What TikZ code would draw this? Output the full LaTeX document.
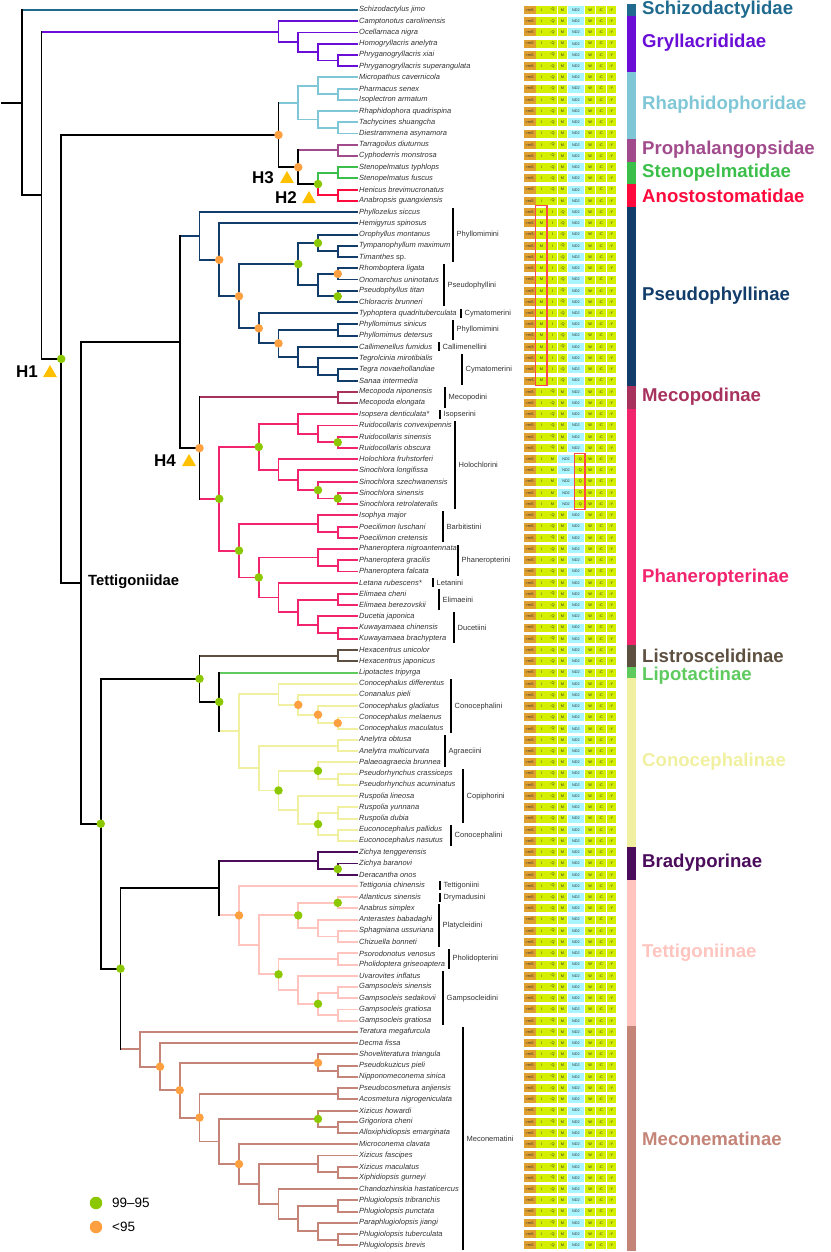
\documentclass[tikz,border=0pt]{standalone}
\usepackage{fontspec}
\setmainfont{Liberation Sans}
\usetikzlibrary{calc,shapes.geometric}
\definecolor{cSchizo}{HTML}{1F6A8E}
\definecolor{cGryl}{HTML}{6A0DD6}
\definecolor{cRhaph}{HTML}{7FC7D6}
\definecolor{cProph}{HTML}{A24B8C}
\definecolor{cSten}{HTML}{3CBF4A}
\definecolor{cAnost}{HTML}{FF0A3C}
\definecolor{cPseudo}{HTML}{123C69}
\definecolor{cMeco}{HTML}{A8325E}
\definecolor{cPhan}{HTML}{F2246E}
\definecolor{cListro}{HTML}{5E5040}
\definecolor{cLipo}{HTML}{5FCB5F}
\definecolor{cConoc}{HTML}{F0F0A0}
\definecolor{cBrady}{HTML}{4B0C5C}
\definecolor{cTett}{HTML}{FFC4BE}
\definecolor{cMecon}{HTML}{C48478}
\definecolor{dotG}{HTML}{8CC800}
\definecolor{dotO}{HTML}{FFA040}
\definecolor{triC}{HTML}{FFC000}
\definecolor{cOr}{HTML}{E0A030}
\definecolor{cYg}{HTML}{D4F000}
\definecolor{cCy}{HTML}{A8F4FF}
\definecolor{cRed}{HTML}{FF4A4A}
\tikzset{
 br/.style={line width=1.9pt,line cap=rect},
 taxon/.style={anchor=west,inner sep=0pt,font=\fontsize{7.5}{8}\selectfont\itshape,text=black!80},
 tribe/.style={anchor=west,inner sep=0pt,font=\fontsize{7.5}{8}\selectfont,text=black!80},
 gtxt/.style={inner sep=0pt,font=\fontsize{3.8}{4}\selectfont,text=black!80},
 clab/.style={anchor=west,inner sep=0pt,font=\fontsize{18.6}{20}\selectfont\bfseries},
 hlab/.style={inner sep=0pt,font=\fontsize{17}{18}\selectfont\bfseries},
 tri/.style={regular polygon,regular polygon sides=3,fill=triC,inner sep=0pt,minimum size=16pt},
 dotg/.style={circle,fill=dotG,inner sep=0pt,minimum size=8.5pt},
 doto/.style={circle,fill=dotO,inner sep=0pt,minimum size=8.5pt},
 redbox/.style={draw=cRed,line width=1.1pt},
}
\newcommand\ry[1]{10+11.23*(#1)}
\newcommand\bn[7]{%
 \path let \p1=($(#3)!.5!(#4)$) in ({2pt+19.75pt*#2},\y1) coordinate (#1);
 \draw[br,#6] (#1 |- #3) -- (#3);
 \draw[br,#7] (#1 |- #4) -- (#4);
 \draw[br,#5] (#1 |- #3) -- (#1 |- #4);
}
\newcommand\gene[6]{%
 \fill[#4] (#1,{#3-4}) rectangle (#2,{#3+4});
 \node[gtxt] (#6) at ({(#1+#2)/2},#3) {#5};
}
\newcommand\growcommon[2]{%
 \gene{523.5}{535.5}{#1}{cOr}{-rrnS}{g#2a}
 \gene{585.2}{595.2}{#1}{cYg}{W}{g#2f}
 \gene{596}{605.8}{#1}{cYg}{-C}{g#2g}
 \gene{606.6}{616}{#1}{cYg}{-Y}{g#2h}
}
\newcommand\grown[2]{%
 \growcommon{#1}{#2}
 \gene{536.3}{546.6}{#1}{cYg}{I}{g#2b}
 \gene{547.4}{557.3}{#1}{cYg}{-Q}{g#2c}
 \gene{558.1}{566.8}{#1}{cYg}{M}{g#2d}
 \gene{567.6}{584.4}{#1}{cCy}{ND2}{g#2e}
}
\newcommand\growp[2]{%
 \growcommon{#1}{#2}
 \gene{536.3}{546.6}{#1}{cYg}{M}{g#2b}
 \gene{547.4}{557.3}{#1}{cYg}{I}{g#2c}
 \gene{558.1}{566.8}{#1}{cYg}{-Q}{g#2d}
 \gene{567.6}{584.4}{#1}{cCy}{ND2}{g#2e}
}
\newcommand\grows[2]{%
 \growcommon{#1}{#2}
 \gene{536.3}{546.6}{#1}{cYg}{I}{g#2b}
 \gene{547.4}{557.3}{#1}{cYg}{M}{g#2c}
 \gene{558.1}{574.0}{#1}{cCy}{ND2}{g#2d}
 \gene{574.8}{584.4}{#1}{cYg}{-Q}{g#2e}
}
\newcommand\cbar[3]{\fill[#3] (627,{\ry{#1-0.5}}) rectangle (636,{\ry{#2+0.5}});}
\newcommand\tribe[5]{%
 \fill[black] ({#1-1.2},{\ry{#2}-4.5}) rectangle ({#1+1.2},{\ry{#3}+4.5});
 \node[tribe] (#5) at ({#1+3.5},{\ry{(#2+#3)/2}}) {#4};
}
\begin{document}
\begin{tikzpicture}[x=1pt,y=-1pt]
\useasboundingbox (0,0) rectangle (830,1252);
% taxa
\foreach \n [count=\i from 0] in {Schizodactylus jimo, Camptonotus carolinensis, Ocellarnaca nigra, Homogryllacris anelytra, Phryganogryllacris xiai, Phryganogryllacris superangulata, Micropathus cavernicola, Pharmacus senex, Isoplectron armatum, Rhaphidophora quadrispina, Tachycines shuangcha, Diestrammena asynamora, Tarragoilus diuturnus, Cyphoderris monstrosa, Stenopelmatus typhlops, Stenopelmatus fuscus, Henicus brevimucronatus, Anabropsis guangxiensis, Phyllozelus siccus, Hemigyrus spinosus, Orophyllus montanus, Tympanophyllum maximum, {Timanthes \textup{sp.}}, Rhomboptera ligata, Onomarchus uninotatus, Pseudophyllus titan, Chloracris brunneri, Typhoptera quadrituberculata, Phyllomimus sinicus, Phyllomimus detersus, Callimenellus fumidus, Tegrolcinia mirotibialis, Tegra novaehollandiae, Sanaa intermedia, Mecopoda niponensis, Mecopoda elongata, Isopsera denticulata*, Ruidocollaris convexipennis, Ruidocollaris sinensis, Ruidocollaris obscura, Holochlora fruhstorferi, Sinochlora longifissa, Sinochlora szechwanensis, Sinochlora sinensis, Sinochlora retrolateralis, Isophya major, Poecilimon luschani, Poecilimon cretensis, Phaneroptera nigroantennata, Phaneroptera gracilis, Phaneroptera falcata, Letana rubescens*, Elimaea cheni, Elimaea berezovskii, Ducetia japonica, Kuwayamaea chinensis, Kuwayamaea brachyptera, Hexacentrus unicolor, Hexacentrus japonicus, Lipotactes tripyrga, Conocephalus differentus, Conanalus pieli, Conocephalus gladiatus, Conocephalus melaenus, Conocephalus maculatus, Anelytra obtusa, Anelytra multicurvata, Palaeoagraecia brunnea, Pseudorhynchus crassiceps, Pseudorhynchus acuminatus, Ruspolia lineosa, Ruspolia yunnana, Ruspolia dubia, Euconocephalus pallidus, Euconocephalus nasutus, Zichya tenggerensis, Zichya baranovi, Deracantha onos, Tettigonia chinensis, Atlanticus sinensis, Anabrus simplex, Anterastes babadaghi, Sphagniana ussuriana, Chizuella bonneti, Psorodonotus venosus, Pholidoptera griseoaptera, Uvarovites inflatus, Gampsocleis sinensis, Gampsocleis sedakovii, Gampsocleis gratiosa, Gampsocleis gratiosa, Teratura megafurcula, Decma fissa, Shoveliteratura triangula, Pseudokuzicus pieli, Nipponomeconema sinica, Pseudocosmetura anjiensis, Acosmetura nigrogeniculata, Xizicus howardi, Grigoriora cheni, Alloxiphidiopsis emarginata, Microconema clavata, Xizicus fascipes, Xizicus maculatus, Xiphidiopsis gurneyi, Chandozhinskia hastaticercus, Phlugiolopsis tribranchis, Phlugiolopsis punctata, Paraphlugiolopsis jiangi, Phlugiolopsis tuberculata, Phlugiolopsis brevis}{
 \node[taxon] (n\i) at (359,{\ry{\i}}) {\n};
 \coordinate (t\i) at (357.5,{\ry{\i}});
}
% gene order panel
\foreach \i in {0,...,110}{
 \pgfmathsetmacro\yy{\ry{\i}}
 \def\rt{n}
 \ifnum\i>17 \ifnum\i<34 \def\rt{p}\fi\fi
 \ifnum\i>39 \ifnum\i<45 \def\rt{s}\fi\fi
 \csname grow\rt\endcsname{\yy}{\i}
}
\draw[redbox] (535.7,{\ry{18}-6.2}) rectangle (547,{\ry{33}+5.2});
\draw[redbox] (574.4,{\ry{40}-5.7}) rectangle (585,{\ry{44}+5.4});
% ---- tree ----
% Gryllacrididae
\bn{g4}{17}{t4}{t5}{cGryl}{cGryl}{cGryl}
\bn{g3}{16}{t3}{g4}{cGryl}{cGryl}{cGryl}
\bn{g2}{15}{t2}{g3}{cGryl}{cGryl}{cGryl}
\bn{g1}{14}{t1}{g2}{cGryl}{cGryl}{cGryl}
% Rhaphidophoridae
\bn{r1}{17}{t7}{t8}{cRhaph}{cRhaph}{cRhaph}
\bn{r2}{16}{t6}{r1}{cRhaph}{cRhaph}{cRhaph}
\bn{r3}{17}{t10}{t11}{cRhaph}{cRhaph}{cRhaph}
\bn{r4}{16}{t9}{r3}{cRhaph}{cRhaph}{cRhaph}
\bn{r5}{15}{r2}{r4}{cRhaph}{cRhaph}{cRhaph}
\bn{p1}{17}{t12}{t13}{cProph}{cProph}{cProph}
\bn{s1}{17}{t14}{t15}{cSten}{cSten}{cSten}
\bn{a1}{17}{t16}{t17}{cAnost}{cAnost}{cAnost}
\bn{h2}{16}{s1}{a1}{black}{cSten}{cAnost}
\draw[br,cSten] (h2) -- (h2 |- s1);
\draw[br,cAnost] (h2) -- (h2 |- a1);
\bn{h3}{15}{p1}{h2}{black}{cProph}{black}
\bn{nb}{14}{r5}{h3}{black}{cRhaph}{black}
% Pseudophyllinae
\bn{ps1}{17}{t21}{t22}{cPseudo}{cPseudo}{cPseudo}
\bn{ps2}{16}{t20}{ps1}{cPseudo}{cPseudo}{cPseudo}
\bn{ps3}{17}{t23}{t24}{cPseudo}{cPseudo}{cPseudo}
\bn{ps4}{17}{t25}{t26}{cPseudo}{cPseudo}{cPseudo}
\bn{ps5}{16}{ps3}{ps4}{cPseudo}{cPseudo}{cPseudo}
\bn{ps6}{15}{ps2}{ps5}{cPseudo}{cPseudo}{cPseudo}
\bn{ps7}{17}{t28}{t29}{cPseudo}{cPseudo}{cPseudo}
\bn{ps8}{17}{t32}{t33}{cPseudo}{cPseudo}{cPseudo}
\bn{ps9}{16}{t31}{ps8}{cPseudo}{cPseudo}{cPseudo}
\bn{ps10}{15}{t30}{ps9}{cPseudo}{cPseudo}{cPseudo}
\bn{ps11}{14}{ps7}{ps10}{cPseudo}{cPseudo}{cPseudo}
\bn{ps12}{13}{t27}{ps11}{cPseudo}{cPseudo}{cPseudo}
\bn{ps13}{12}{ps6}{ps12}{cPseudo}{cPseudo}{cPseudo}
\bn{ps14}{11}{t19}{ps13}{cPseudo}{cPseudo}{cPseudo}
\bn{ps15}{10}{t18}{ps14}{cPseudo}{cPseudo}{cPseudo}
% Mecopodinae
\bn{me1}{17}{t34}{t35}{cMeco}{cMeco}{cMeco}
% Phaneropterinae
\bn{ph1}{17}{t38}{t39}{cPhan}{cPhan}{cPhan}
\bn{ph2}{16}{t37}{ph1}{cPhan}{cPhan}{cPhan}
\bn{ph3}{15}{t36}{ph2}{cPhan}{cPhan}{cPhan}
\bn{ph4}{17}{t43}{t44}{cPhan}{cPhan}{cPhan}
\bn{ph5}{16}{t42}{ph4}{cPhan}{cPhan}{cPhan}
\bn{ph6}{15}{t41}{ph5}{cPhan}{cPhan}{cPhan}
\bn{ph7}{14}{t40}{ph6}{cPhan}{cPhan}{cPhan}
\bn{ph8}{13}{ph3}{ph7}{cPhan}{cPhan}{cPhan}
\bn{ph9}{17}{t46}{t47}{cPhan}{cPhan}{cPhan}
\bn{ph10}{16}{t45}{ph9}{cPhan}{cPhan}{cPhan}
\bn{ph11}{17}{t49}{t50}{cPhan}{cPhan}{cPhan}
\bn{ph12}{16}{t48}{ph11}{cPhan}{cPhan}{cPhan}
\bn{ph13}{17}{t52}{t53}{cPhan}{cPhan}{cPhan}
\bn{ph14}{17}{t55}{t56}{cPhan}{cPhan}{cPhan}
\bn{ph15}{16}{t54}{ph14}{cPhan}{cPhan}{cPhan}
\bn{ph16}{15}{ph13}{ph15}{cPhan}{cPhan}{cPhan}
\bn{ph17}{14}{t51}{ph16}{cPhan}{cPhan}{cPhan}
\bn{ph18}{13}{ph12}{ph17}{cPhan}{cPhan}{cPhan}
\bn{ph19}{12}{ph10}{ph18}{cPhan}{cPhan}{cPhan}
\bn{ph20}{11}{ph8}{ph19}{cPhan}{cPhan}{cPhan}
\bn{h4}{10}{me1}{ph20}{black}{cMeco}{cPhan}
\bn{nc}{9}{ps15}{h4}{black}{cPseudo}{black}
% Listroscelidinae, Lipotactinae, Conocephalinae
\bn{li1}{17}{t57}{t58}{cListro}{cListro}{cListro}
\bn{co1}{17}{t63}{t64}{cConoc}{cConoc}{cConoc}
\bn{co2}{16}{t62}{co1}{cConoc}{cConoc}{cConoc}
\bn{co3}{15}{t61}{co2}{cConoc}{cConoc}{cConoc}
\bn{co4}{14}{t60}{co3}{cConoc}{cConoc}{cConoc}
\bn{co5}{17}{t65}{t66}{cConoc}{cConoc}{cConoc}
\bn{co6}{17}{t68}{t69}{cConoc}{cConoc}{cConoc}
\bn{co7}{16}{t67}{co6}{cConoc}{cConoc}{cConoc}
\bn{co8}{17}{t71}{t72}{cConoc}{cConoc}{cConoc}
\bn{co9}{17}{t73}{t74}{cConoc}{cConoc}{cConoc}
\bn{co10}{16}{co8}{co9}{cConoc}{cConoc}{cConoc}
\bn{co11}{15}{t70}{co10}{cConoc}{cConoc}{cConoc}
\bn{co12}{14}{co7}{co11}{cConoc}{cConoc}{cConoc}
\bn{co13}{13}{co5}{co12}{cConoc}{cConoc}{cConoc}
\bn{co14}{12}{co4}{co13}{cConoc}{cConoc}{cConoc}
\bn{nla}{11}{t59}{co14}{black}{cLipo}{cConoc}
\bn{nlb}{10}{li1}{nla}{black}{cListro}{black}
% Bradyporinae, Tettigoniinae
\bn{br1}{17}{t76}{t77}{cBrady}{cBrady}{cBrady}
\bn{br2}{16}{t75}{br1}{cBrady}{cBrady}{cBrady}
\bn{te1}{17}{t79}{t80}{cTett}{cTett}{cTett}
\bn{te2}{17}{t82}{t83}{cTett}{cTett}{cTett}
\bn{te3}{16}{t81}{te2}{cTett}{cTett}{cTett}
\bn{te4}{15}{te1}{te3}{cTett}{cTett}{cTett}
\bn{te5}{17}{t84}{t85}{cTett}{cTett}{cTett}
\bn{te6}{17}{t87}{t88}{cTett}{cTett}{cTett}
\bn{te7}{17}{t89}{t90}{cTett}{cTett}{cTett}
\bn{te8}{16}{te6}{te7}{cTett}{cTett}{cTett}
\bn{te9}{15}{t86}{te8}{cTett}{cTett}{cTett}
\bn{te10}{14}{te5}{te9}{cTett}{cTett}{cTett}
\bn{te11}{13}{te4}{te10}{cTett}{cTett}{cTett}
\bn{te12}{12}{t78}{te11}{cTett}{cTett}{cTett}
\bn{nbt}{11}{br2}{te12}{black}{cBrady}{cTett}
% Meconematinae
\bn{mc1}{17}{t94}{t95}{cMecon}{cMecon}{cMecon}
\bn{mc2}{16}{t93}{mc1}{cMecon}{cMecon}{cMecon}
\bn{mc3}{17}{t96}{t97}{cMecon}{cMecon}{cMecon}
\bn{mc4}{17}{t99}{t100}{cMecon}{cMecon}{cMecon}
\bn{mc5}{16}{t98}{mc4}{cMecon}{cMecon}{cMecon}
\bn{mc6}{17}{t103}{t104}{cMecon}{cMecon}{cMecon}
\bn{mc7}{16}{t102}{mc6}{cMecon}{cMecon}{cMecon}
\bn{mc8}{17}{t106}{t107}{cMecon}{cMecon}{cMecon}
\bn{mc9}{17}{t109}{t110}{cMecon}{cMecon}{cMecon}
\bn{mc10}{16}{t108}{mc9}{cMecon}{cMecon}{cMecon}
\bn{mc11}{15}{mc8}{mc10}{cMecon}{cMecon}{cMecon}
\bn{mc12}{14}{t105}{mc11}{cMecon}{cMecon}{cMecon}
\bn{mc13}{13}{mc7}{mc12}{cMecon}{cMecon}{cMecon}
\bn{mc14}{12}{t101}{mc13}{cMecon}{cMecon}{cMecon}
\bn{mc15}{11}{mc5}{mc14}{cMecon}{cMecon}{cMecon}
\bn{mc16}{10}{mc3}{mc15}{cMecon}{cMecon}{cMecon}
\bn{mc17}{9}{mc2}{mc16}{cMecon}{cMecon}{cMecon}
\bn{mc18}{8}{t92}{mc17}{cMecon}{cMecon}{cMecon}
\bn{mc19}{7}{t91}{mc18}{cMecon}{cMecon}{cMecon}
\bn{n120}{6}{nbt}{mc19}{black}{black}{cMecon}
\bn{n100}{5}{nlb}{n120}{black}{black}{black}
\bn{nt}{4}{nc}{n100}{black}{black}{black}
\bn{h1}{3}{nb}{nt}{black}{black}{black}
\bn{na}{2}{g1}{h1}{black}{cGryl}{black}
\bn{root}{1}{t0}{na}{black}{cSchizo}{black}
\coordinate (rs) at ($(root)+(-19.75,0)$);
\draw[br] (rs) -- (root);
% support dots
\foreach \d in {nb,h3,ps14,ps13,ps3,ps12,ps11,h4,co3,co2,co1,te12,mc18,mc17,mc2,mc16,mc14}
 \node[doto] (o\d) at (\d) {};
\foreach \d in {h1,h2,ps6,ps2,ps4,ph8,ph1,ph5,ph4,ph20,ph19,ph18,n100,nlb,nla,co7,co12,co10,br1,n120,te4,te1,te10,te8,mc5}
 \node[dotg] (x\d) at (\d) {};
% hypothesis labels
\node[hlab] (lh1) at (27,372) {H1};
\node[tri] (th1) at (50,373) {};
\node[hlab] (lh3) at (263,178) {H3};
\node[tri] (th3) at (287,179) {};
\node[hlab] (lh2) at (286,198) {H2};
\node[tri] (th2) at (309,199) {};
\node[hlab] (lh4) at (165,461) {H4};
\node[tri] (th4) at (189,462) {};
\node[anchor=west,inner sep=0pt,font=\fontsize{14.8}{16}\selectfont\bfseries] (ltet) at (88,582) {Tettigoniidae};
% tribes
\tribe{453}{18}{22}{Phyllomimini}{tb1}
\tribe{444}{23}{26}{Pseudophyllini}{tb2}
\tribe{461}{27}{27}{Cymatomerini}{tb3}
\tribe{453}{28}{29}{Phyllomimini}{tb4}
\tribe{439}{30}{30}{Callimenellini}{tb5}
\tribe{462}{31}{33}{Cymatomerini}{tb6}
\tribe{445}{34}{35}{Mecopodini}{tb7}
\tribe{440}{36}{36}{Isopserini}{tb8}
\tribe{455}{37}{44}{Holochlorini}{tb9}
\tribe{443}{45}{47}{Barbitistini}{tb10}
\tribe{458}{48}{50}{Phaneropterini}{tb11}
\tribe{433}{51}{51}{Letanini}{tb12}
\tribe{439}{52}{53}{Elimaeini}{tb13}
\tribe{454}{54}{56}{Ducetiini}{tb14}
\tribe{451}{60}{64}{Conocephalini}{tb15}
\tribe{445}{65}{67}{Agraeciini}{tb16}
\tribe{463}{68}{72}{Copiphorini}{tb17}
\tribe{451}{73}{74}{Conocephalini}{tb18}
\tribe{440}{78}{78}{Tettigoniini}{tb19}
\tribe{440}{79}{79}{Drymadusini}{tb20}
\tribe{439}{80}{83}{Platycleidini}{tb21}
\tribe{449}{84}{85}{Pholidopterini}{tb22}
\tribe{443}{86}{90}{Gampsocleidini}{tb23}
\tribe{463}{91}{110}{Meconematini}{tb24}
% clade bars
\cbar{0}{0}{cSchizo}
\cbar{1}{5}{cGryl}
\cbar{6}{11}{cRhaph}
\cbar{12}{13}{cProph}
\cbar{14}{15}{cSten}
\cbar{16}{17}{cAnost}
\cbar{18}{33}{cPseudo}
\cbar{34}{35}{cMeco}
\cbar{36}{56}{cPhan}
\cbar{57}{58}{cListro}
\cbar{59}{59}{cLipo}
\cbar{60}{74}{cConoc}
\cbar{75}{77}{cBrady}
\cbar{78}{90}{cTett}
\cbar{91}{110}{cMecon}
\node[clab,text=cSchizo] (c1) at (642,9.5) {Schizodactylidae};
\node[clab,text=cGryl] (c2) at (642,43) {Gryllacrididae};
\node[clab,text=cRhaph] (c3) at (642,105) {Rhaphidophoridae};
\node[clab,text=cProph] (c4) at (642,150) {Prophalangopsidae};
\node[clab,text=cSten] (c5) at (642,172.5) {Stenopelmatidae};
\node[clab,text=cAnost] (c6) at (642,196) {Anostostomatidae};
\node[clab,text=cPseudo] (c7) at (642,296) {Pseudophyllinae};
\node[clab,text=cMeco] (c8) at (642,396.5) {Mecopodinae};
\node[clab,text=cPhan] (c9) at (642,578) {Phaneropterinae};
\node[clab,text=cListro] (c10) at (642,655.5) {Listroscelidinae};
\node[clab,text=cLipo] (c11) at (642,676) {Lipotactinae};
\node[clab,text=cConoc] (c12) at (642,762) {Conocephalinae};
\node[clab,text=cBrady] (c13) at (642,863) {Bradyporinae};
\node[clab,text=cTett] (c14) at (642,953) {Tettigoniinae};
\node[clab,text=cMecon] (c15) at (642,1138.5) {Meconematinae};
% legend
\node[circle,fill=dotG,inner sep=0pt,minimum size=12.5pt] (lg1) at (96,1203) {};
\node[anchor=west,inner sep=0pt,font=\fontsize{13.5}{14}\selectfont] (lt1) at (112,1203) {99--95};
\node[circle,fill=dotO,inner sep=0pt,minimum size=12.5pt] (lg2) at (96,1227) {};
\node[anchor=west,inner sep=0pt,font=\fontsize{13.5}{14}\selectfont] (lt2) at (112,1227) {<95};
\end{tikzpicture}
\end{document}
